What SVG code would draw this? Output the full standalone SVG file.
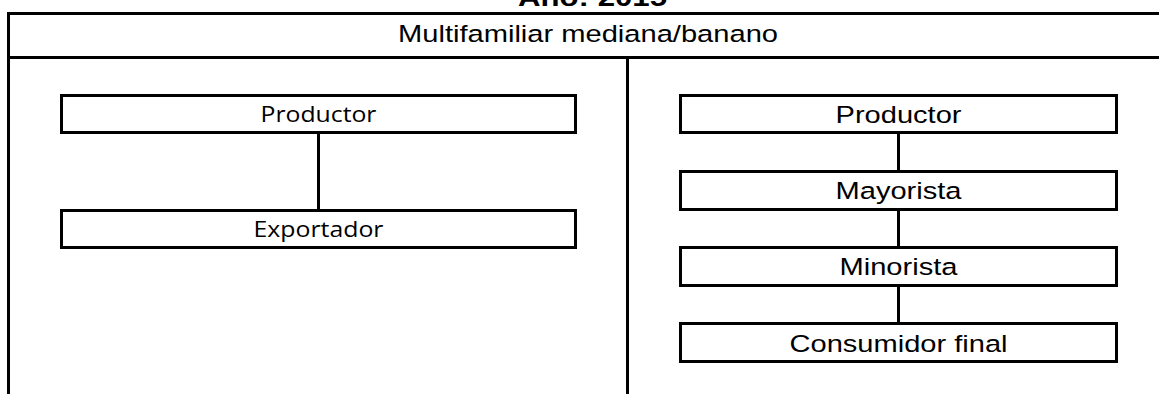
<svg xmlns="http://www.w3.org/2000/svg" width="1159" height="394" viewBox="0 0 1159 394">
<style>
.ln{stroke:#000;stroke-width:3;fill:none}
.box{stroke:#000;stroke-width:3;fill:#fff}
.ar{font-family:"Liberation Sans",Arial,sans-serif;font-size:24.5px;fill:#000;text-anchor:middle}
.cal{font-family:"Open Sans","Liberation Sans",sans-serif;font-size:21.5px;fill:#000;text-anchor:middle}
.ttl{font-family:"Liberation Sans",Arial,sans-serif;font-size:26px;font-weight:bold;fill:#000;text-anchor:middle}
</style>
<rect width="1159" height="394" fill="#fff"/>
<g id="frame">
<text class="ttl" x="592.5" y="5.5" textLength="149" lengthAdjust="spacingAndGlyphs">Año: 2015</text>
<line class="ln" x1="7" y1="13.5" x2="1160" y2="13.5"/>
<line class="ln" x1="8.5" y1="13.5" x2="8.5" y2="395"/>
<line class="ln" x1="7" y1="57.5" x2="1160" y2="57.5"/>
<line class="ln" x1="627.5" y1="57.5" x2="627.5" y2="395"/>
<text class="ar" x="588" y="42" font-size="23" textLength="380" lengthAdjust="spacingAndGlyphs">Multifamiliar mediana/banano</text>
</g>
<g id="connectors">
<line class="ln" x1="318.5" y1="132.5" x2="318.5" y2="210.5"/>
<line class="ln" x1="898.5" y1="132.5" x2="898.5" y2="171.5"/>
<line class="ln" x1="898.5" y1="209.5" x2="898.5" y2="247.5"/>
<line class="ln" x1="898.5" y1="285.5" x2="898.5" y2="323.5"/>
</g>
<g id="left-productor">
<rect class="box" x="61.5" y="95.5" width="514" height="37"/>
<text class="cal" x="318.5" y="121.5" textLength="116" lengthAdjust="spacingAndGlyphs">Productor</text>
</g>
<g id="left-exportador">
<rect class="box" x="61.5" y="210.5" width="514" height="37"/>
<text class="cal" x="318.5" y="237" textLength="130" lengthAdjust="spacingAndGlyphs">Exportador</text>
</g>
<g id="right-productor">
<rect class="box" x="680.5" y="95.5" width="436" height="37"/>
<text class="ar" x="898.5" y="123" textLength="126" lengthAdjust="spacingAndGlyphs">Productor</text>
</g>
<g id="right-mayorista">
<rect class="box" x="680.5" y="171.5" width="436" height="38"/>
<text class="ar" x="898.5" y="199" textLength="126" lengthAdjust="spacingAndGlyphs">Mayorista</text>
</g>
<g id="right-minorista">
<rect class="box" x="680.5" y="247.5" width="436" height="38"/>
<text class="ar" x="898.5" y="275" textLength="118" lengthAdjust="spacingAndGlyphs">Minorista</text>
</g>
<g id="right-consumidor">
<rect class="box" x="680.5" y="323.5" width="436" height="38"/>
<text class="ar" x="898.5" y="351.5" textLength="218" lengthAdjust="spacingAndGlyphs">Consumidor final</text>
</g>
</svg>
